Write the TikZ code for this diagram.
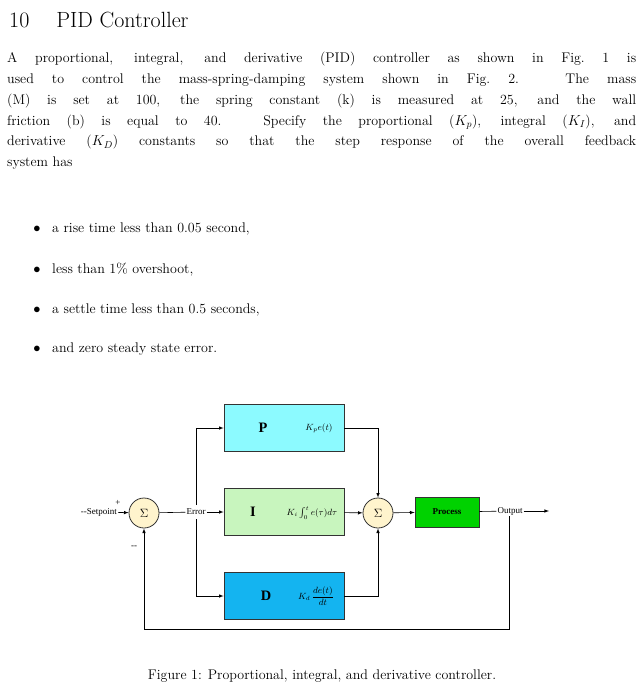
\documentclass[tikz,border=0pt]{standalone}
\usepackage{fontspec}
\newfontfamily\diagfont{Liberation Serif}
\usetikzlibrary{arrows, positioning}
\definecolor{pcyan}{RGB}{140,250,255}
\definecolor{igreen}{RGB}{200,245,190}
\definecolor{dblue}{RGB}{20,180,240}
\definecolor{procgreen}{RGB}{0,210,0}
\definecolor{sumyellow}{RGB}{255,244,205}
\tikzset{
  blk/.style = {draw=black!80, line width=0.8pt, minimum width=120pt, minimum height=47pt, inner sep=0pt},
  sumnode/.style = {circle, draw=black!80, fill=sumyellow, line width=0.8pt, minimum size=30pt, inner sep=0pt, font=\diagfont\bfseries\large},
  lbl/.style = {font=\diagfont\small, inner sep=1pt},
  sig/.style = {-latex, line width=0.6pt},
  wire/.style = {line width=0.6pt},
  para/.style = {anchor=north west, align=justify, inner sep=0pt},
}
\begin{document}
\begin{tikzpicture}[x=1pt, y=-1pt]
\useasboundingbox (0,0) rectangle (643,695);
% heading and problem text
\node [anchor=west, inner sep=0pt, font=\fontsize{22}{26}\selectfont] (title) at (9,20) {10\hspace{27pt}PID Controller};
\node [para, text width=629pt, font=\fontsize{14}{20.8}\selectfont] (body) at (7,52)
  {A proportional, integral, and derivative (PID) controller as shown in Fig.~1 is\linebreak
   used to control the mass-spring-damping system shown in Fig.~2. The mass\linebreak
   (M) is set at 100, the spring constant (k) is measured at 25, and the wall\linebreak
   friction (b) is equal to 40. Specify the proportional ($K_p$), integral ($K_I$), and\linebreak
   derivative ($K_D$) constants so that the step response of the overall feedback\linebreak
   system has};
\foreach \y/\t [count=\i] in {229/{a rise time less than 0.05 second,},
                              270/{less than 1\% overshoot,},
                              310/{a settle time less than 0.5 seconds,},
                              349/{and zero steady state error.}} {
  \node [font=\fontsize{14}{17}\selectfont, inner sep=0pt] (dot\i) at (37,\y) {$\bullet$};
  \node [anchor=west, font=\fontsize{14}{17}\selectfont, inner sep=0pt] (item\i) at (52,\y) {\t};
}
% block diagram
\node [sumnode] (sum1) at (144,513) {$\Sigma$};
\node [blk, fill=pcyan] (pblk) at (284,428) {};
\node [blk, fill=igreen] (iblk) at (284,512) {};
\node [blk, fill=dblue] (dblk) at (284,596) {};
\node [sumnode] (sum2) at (378,513) {$\Sigma$};
\node [blk, fill=procgreen, minimum width=64pt, minimum height=30pt, font=\diagfont\bfseries\small] (proc) at (447,512) {Process};
\node [font=\diagfont\bfseries\Large] at (263,428) {P};
\node [font=\diagfont\bfseries\Large] at (253,512) {I};
\node [font=\diagfont\bfseries\Large] at (266,596) {D};
\node [lbl] at (319,428) {$K_p e(t)$};
\node [lbl] at (312,513) {$K_i\int_0^t e(\tau)d\tau$};
\node [lbl] at (316,596) {$K_d\,\displaystyle\frac{de(t)}{dt}$};
\node [lbl, anchor=east] (setp) at (118,512) {--Setpoint};
\node [lbl] (err) at (196,512) {Error};
\node [lbl] (outp) at (510,511) {Output};
\coordinate (outend) at (549,511);
\coordinate (fb) at (509,629);
\node [lbl] at (118,503) {+};
\node [lbl] at (134,547) {--};
\draw [sig] (setp) -- (sum1);
\draw [wire] (sum1) -- (err);
\draw [sig] (err) -- (iblk);
\draw [sig] (196,505) |- (pblk);
\draw [sig] (196,519) |- (dblk);
\draw [sig] (pblk) -| (sum2);
\draw [sig] (iblk) -- (sum2);
\draw [sig] (dblk) -| (sum2);
\draw [sig] (sum2) -- (proc);
\draw [wire] (proc) -- (outp);
\draw [sig] (outp) -- (outend);
\draw [sig] (fb |- outp.south) -- (fb) -| (sum1);
\node [font=\fontsize{14}{17}\selectfont, inner sep=0pt] (caption) at (322,676) {Figure 1: Proportional, integral, and derivative controller.};
\end{tikzpicture}
\end{document}
